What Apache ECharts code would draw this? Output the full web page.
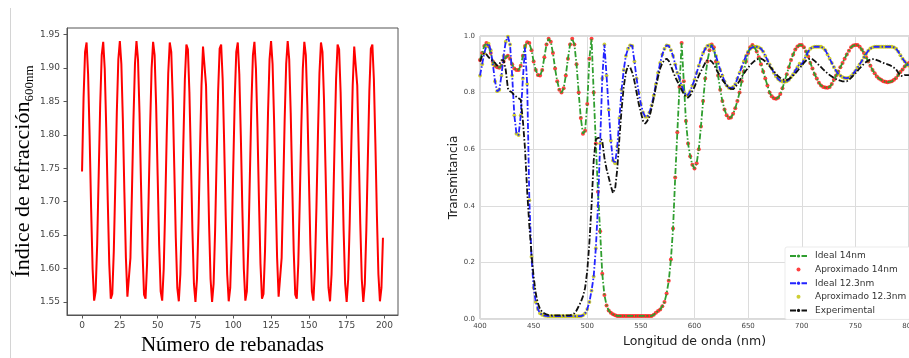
<!DOCTYPE html>
<html><head><meta charset="utf-8">
<script src="https://cdn.jsdelivr.net/npm/echarts@6/dist/echarts.min.js"></script>
<style>html,body{margin:0;padding:0;background:#fff}#c{width:909px;height:358px}</style>
</head><body><div id="c"></div>
<script>
// ---------- Left panel: refractive index per slice (x = slice index) ----------
const indiceRefraccion = [
1.745,1.855,1.924,1.938,1.891,1.799,1.690,1.599,1.552,1.566,
1.636,1.739,1.845,1.919,1.939,1.899,1.811,1.702,1.607,1.555,
1.562,1.626,1.727,1.834,1.913,1.940,1.906,1.822,1.714,1.616,
1.558,1.558,1.616,1.715,1.823,1.906,1.940,1.913,1.833,1.726,
1.625,1.561,1.555,1.607,1.703,1.811,1.899,1.939,1.919,1.844,
1.739,1.635,1.566,1.552,1.599,1.691,1.800,1.892,1.938,1.924,
1.854,1.751,1.646,1.571,1.551,1.591,1.679,1.788,1.883,1.935,
1.928,1.864,1.763,1.656,1.577,1.550,1.584,1.668,1.776,1.874,
1.932,1.932,1.874,1.775,1.667,1.584,1.550,1.577,1.657,1.764,
1.865,1.929,1.935,1.883,1.787,1.679,1.591,1.551,1.571,1.646,
1.751,1.855,1.924,1.938,1.891,1.799,1.690,1.599,1.552,1.566,
1.636,1.739,1.845,1.919,1.939,1.899,1.811,1.702,1.607,1.555,
1.562,1.626,1.727,1.834,1.913,1.940,1.906,1.822,1.714,1.616,
1.558,1.558,1.616,1.715,1.823,1.906,1.940,1.913,1.833,1.726,
1.625,1.561,1.555,1.607,1.703,1.811,1.899,1.939,1.919,1.844,
1.739,1.635,1.566,1.552,1.599,1.691,1.800,1.892,1.938,1.924,
1.854,1.751,1.646,1.571,1.551,1.591,1.679,1.788,1.883,1.935,
1.928,1.864,1.763,1.656,1.577,1.550,1.584,1.668,1.776,1.874,
1.932,1.932,1.874,1.775,1.667,1.584,1.550,1.577,1.657,1.764,
1.865,1.929,1.935,1.883,1.787,1.679,1.591,1.551,1.571,1.646
];
const xTicksLeft = [0,25,50,75,100,125,150,175,200];
const yTicksLeft = [1.55,1.60,1.65,1.70,1.75,1.80,1.85,1.90,1.95];

// ---------- Right panel: transmittance vs wavelength ----------
const longitudOnda = [
400,402,404,406,408,410,412,414,416,418,
420,422,424,426,428,430,432,434,436,438,
440,442,444,446,448,450,452,454,456,458,
460,462,464,466,468,470,472,474,476,478,
480,482,484,486,488,490,492,494,496,498,
500,502,504,506,508,510,512,514,516,518,
520,522,524,526,528,530,532,534,536,538,
540,542,544,546,548,550,552,554,556,558,
560,562,564,566,568,570,572,574,576,578,
580,582,584,586,588,590,592,594,596,598,
600,602,604,606,608,610,612,614,616,618,
620,622,624,626,628,630,632,634,636,638,
640,642,644,646,648,650,652,654,656,658,
660,662,664,666,668,670,672,674,676,678,
680,682,684,686,688,690,692,694,696,698,
700,702,704,706,708,710,712,714,716,718,
720,722,724,726,728,730,732,734,736,738,
740,742,744,746,748,750,752,754,756,758,
760,762,764,766,768,770,772,774,776,778,
780,782,784,786,788,790,792,794,796,798,
800
];
const trans14 = [
.915,.94,.965,.975,.965,.94,.91,.895,.89,.888,
.895,.91,.925,.93,.92,.90,.885,.88,.88,.895,
.93,.965,.978,.975,.95,.91,.88,.862,.86,.88,
.925,.97,.99,.98,.94,.885,.84,.81,.80,.815,
.86,.92,.97,.99,.97,.90,.80,.71,.655,.665,
.76,.92,.99,.80,.62,.45,.31,.16,.085,.048,
.03,.022,.017,.013,.011,.011,.011,.011,.011,.011,
.011,.011,.011,.011,.011,.011,.011,.011,.011,.011,
.011,.015,.022,.028,.034,.045,.06,.09,.135,.21,
.32,.50,.66,.82,.975,.84,.70,.62,.575,.545,
.532,.55,.60,.68,.77,.85,.91,.95,.97,.96,
.91,.86,.81,.77,.74,.72,.71,.712,.725,.745,
.77,.80,.84,.875,.91,.94,.96,.968,.96,.945,
.925,.90,.875,.85,.825,.80,.787,.78,.778,.782,
.795,.815,.84,.865,.89,.915,.935,.952,.963,.968,
.968,.96,.945,.928,.905,.885,.865,.85,.835,.825,
.82,.818,.817,.82,.83,.845,.86,.875,.89,.905,
.92,.935,.948,.96,.966,.968,.968,.962,.952,.94,
.925,.91,.895,.88,.868,.857,.85,.845,.84,.838,
.837,.838,.84,.845,.852,.862,.873,.882,.892,.90,
.905
];
const trans123 = [
.86,.90,.94,.965,.973,.95,.90,.84,.805,.81,
.86,.93,.98,.998,.97,.86,.72,.655,.65,.72,
.85,.96,.83,.42,.22,.11,.06,.035,.02,.015,
.012,.011,.01,.01,.01,.01,.01,.01,.01,.01,
.01,.01,.01,.01,.01,.01,.01,.01,.013,.02,
.035,.06,.10,.15,.25,.40,.62,.85,.97,.86,
.74,.63,.56,.55,.61,.71,.81,.88,.93,.955,
.967,.965,.91,.85,.80,.76,.73,.715,.715,.73,
.755,.79,.83,.87,.905,.935,.955,.967,.965,.95,
.93,.90,.87,.85,.825,.805,.79,.792,.805,.825,
.845,.87,.895,.92,.94,.955,.965,.968,.965,.95,
.93,.905,.88,.86,.84,.825,.817,.815,.82,.83,
.85,.87,.89,.91,.93,.945,.955,.96,.962,.962,
.96,.955,.945,.93,.915,.90,.885,.87,.857,.848,
.842,.839,.838,.84,.845,.855,.865,.878,.89,.902,
.90,.915,.93,.945,.955,.96,.962,.962,.962,.962,
.958,.95,.935,.92,.905,.89,.877,.867,.86,.855,
.852,.851,.853,.858,.867,.877,.888,.90,.912,.925,
.937,.948,.956,.96,.962,.962,.962,.962,.962,.962,
.962,.962,.962,.96,.955,.945,.932,.92,.91,.90,
.895
];
const transExp = [
.91,.93,.94,.935,.925,.918,.912,.905,.895,.90,
.915,.915,.88,.815,.805,.80,.79,.785,.78,.775,
.70,.60,.45,.33,.23,.15,.09,.055,.035,.025,
.02,.016,.014,.013,.013,.013,.013,.013,.013,.013,
.013,.013,.013,.016,.02,.03,.045,.06,.08,.11,
.17,.27,.40,.56,.635,.64,.64,.63,.57,.53,
.50,.47,.445,.46,.53,.64,.74,.82,.87,.895,
.89,.87,.84,.80,.76,.73,.70,.69,.70,.715,
.745,.78,.82,.855,.885,.905,.915,.92,.912,.895,
.875,.855,.84,.825,.81,.795,.785,.782,.79,.805,
.82,.84,.86,.875,.89,.905,.915,.915,.91,.90,
.885,.87,.858,.845,.835,.825,.818,.813,.812,.818,
.83,.842,.855,.867,.878,.888,.898,.905,.912,.917,
.92,.92,.916,.91,.90,.893,.885,.875,.866,.858,
.852,.847,.845,.845,.848,.853,.86,.868,.877,.886,
.895,.905,.913,.918,.92,.918,.912,.905,.897,.89,
.882,.875,.868,.862,.857,.852,.848,.845,.842,.84,
.84,.84,.845,.852,.86,.868,.877,.886,.894,.902,
.908,.913,.917,.918,.918,.915,.912,.908,.905,.902,
.90,.897,.893,.888,.882,.87,.86,.858,.862,.862,
.862
];
const seriesNames = ['Ideal 14nm','Aproximado 14nm','Ideal 12.3nm','Aproximado 12.3nm','Experimental'];

const pairsIdx = arr => arr.map((v,i)=>[i,v]);
const pairsWl = arr => arr.map((v,i)=>[longitudOnda[i],v]);

const chart = echarts.init(document.getElementById('c'), null, {renderer:'canvas'});
const tickFont = {fontFamily:'DejaVu Sans', color:'#444'};
const dashDot = [6,2,1.5,2];

chart.setOption({
  animation:false,
  backgroundColor:'#fff',
  graphic:[{type:'line', shape:{x1:10.5,y1:8,x2:10.5,y2:358}, style:{stroke:'#d4d4d4', lineWidth:1}}],
  grid:[
    {left:67, top:28, width:331, height:287, show:true, borderColor:'#555', borderWidth:1, outerBoundsMode:'none', containLabel:false},
    {left:480, top:36, width:429, height:283, show:true, borderColor:'#b5b5b5', borderWidth:1, outerBoundsMode:'none', containLabel:false}
  ],
  xAxis:[
    {gridIndex:0, type:'value', min:-9.95, max:208.95,
     axisLine:{show:true, onZero:false, lineStyle:{color:'#555'}},
     axisTick:{show:true, customValues:xTicksLeft, length:3.5, lineStyle:{color:'#555'}},
     axisLabel:{customValues:xTicksLeft, fontSize:9, margin:6, ...tickFont},
     splitLine:{show:false},
     name:'Número de rebanadas', nameLocation:'middle', nameGap:20,
     nameTextStyle:{fontFamily:'Liberation Serif', fontSize:21, color:'#000'}},
    {gridIndex:1, type:'value', min:400, max:800, interval:50,
     axisLine:{show:false}, axisTick:{show:false},
     axisLabel:{fontSize:7, margin:4, ...tickFont},
     splitLine:{show:true, lineStyle:{color:'#dcdcdc', width:1}},
     name:'Longitud de onda (nm)', nameLocation:'middle', nameGap:15,
     nameTextStyle:{fontFamily:'DejaVu Sans', fontSize:12.5, color:'#222'}}
  ],
  yAxis:[
    {gridIndex:0, type:'value', min:1.5305, max:1.9597,
     axisLine:{show:true, onZero:false, lineStyle:{color:'#555'}},
     axisTick:{show:true, customValues:yTicksLeft, length:3.5, lineStyle:{color:'#555'}},
     axisLabel:{customValues:yTicksLeft, fontSize:9, margin:7, formatter:v=>v.toFixed(2), ...tickFont},
     splitLine:{show:false},
     name:'{a|Índice de refracción}{b|600nm}', nameLocation:'middle', nameGap:30, nameRotate:90,
     nameTextStyle:{rich:{
       a:{fontFamily:'Liberation Serif', fontSize:22, color:'#000', verticalAlign:'bottom', padding:[0,0,2,0]},
       b:{fontFamily:'Liberation Serif', fontSize:13, color:'#000', verticalAlign:'bottom'}
     }}},
    {gridIndex:1, type:'value', min:0, max:1, interval:0.2,
     axisLine:{show:false}, axisTick:{show:false},
     axisLabel:{fontSize:7, margin:5, formatter:v=>v.toFixed(1), ...tickFont},
     splitLine:{show:true, lineStyle:{color:'#dcdcdc', width:1}},
     name:'Transmitancia', nameLocation:'middle', nameGap:19, nameRotate:90,
     nameTextStyle:{fontFamily:'DejaVu Sans', fontSize:12, color:'#222'}}
  ],
  legend:{
    show:true, orient:'vertical', left:785, top:247,
    backgroundColor:'#fff', borderColor:'#e6e6e6', borderWidth:0.8, borderRadius:2,
    padding:[4,4,4,4], itemWidth:17, itemHeight:4, itemGap:3.6,
    textStyle:{fontFamily:'DejaVu Sans', fontSize:9, color:'#333', lineHeight:10, padding:[0,0,0,3]},
    data:[
      {name:seriesNames[0]},
      {name:seriesNames[1], icon:'circle'},
      {name:seriesNames[2]},
      {name:seriesNames[3], icon:'circle'},
      {name:seriesNames[4]}
    ]
  },
  series:[
    {type:'line', xAxisIndex:0, yAxisIndex:0, data:pairsIdx(indiceRefraccion),
     showSymbol:false, symbol:'none', lineStyle:{color:'#ff0000', width:2}, itemStyle:{color:'#ff0000'}},
    {type:'line', name:seriesNames[0], xAxisIndex:1, yAxisIndex:1, data:pairsWl(trans14),
     showSymbol:false, symbol:'none', lineStyle:{color:'#2f9e2f', width:1.8, type:dashDot}, itemStyle:{color:'#2f9e2f'}},
    {type:'scatter', name:seriesNames[1], xAxisIndex:1, yAxisIndex:1, data:pairsWl(trans14),
     symbolSize:4, itemStyle:{color:'#ff1010'}},
    {type:'line', name:seriesNames[2], xAxisIndex:1, yAxisIndex:1, data:pairsWl(trans123),
     showSymbol:false, symbol:'none', lineStyle:{color:'#2323ff', width:1.8, type:dashDot}, itemStyle:{color:'#2323ff'}},
    {type:'scatter', name:seriesNames[3], xAxisIndex:1, yAxisIndex:1, data:pairsWl(trans123),
     symbolSize:3.8, itemStyle:{color:'#c2c200'}},
    {type:'line', name:seriesNames[4], xAxisIndex:1, yAxisIndex:1, data:pairsWl(transExp),
     showSymbol:false, symbol:'none', lineStyle:{color:'#111', width:1.8, type:dashDot}, itemStyle:{color:'#111'}}
  ]
});
</script></body></html>
